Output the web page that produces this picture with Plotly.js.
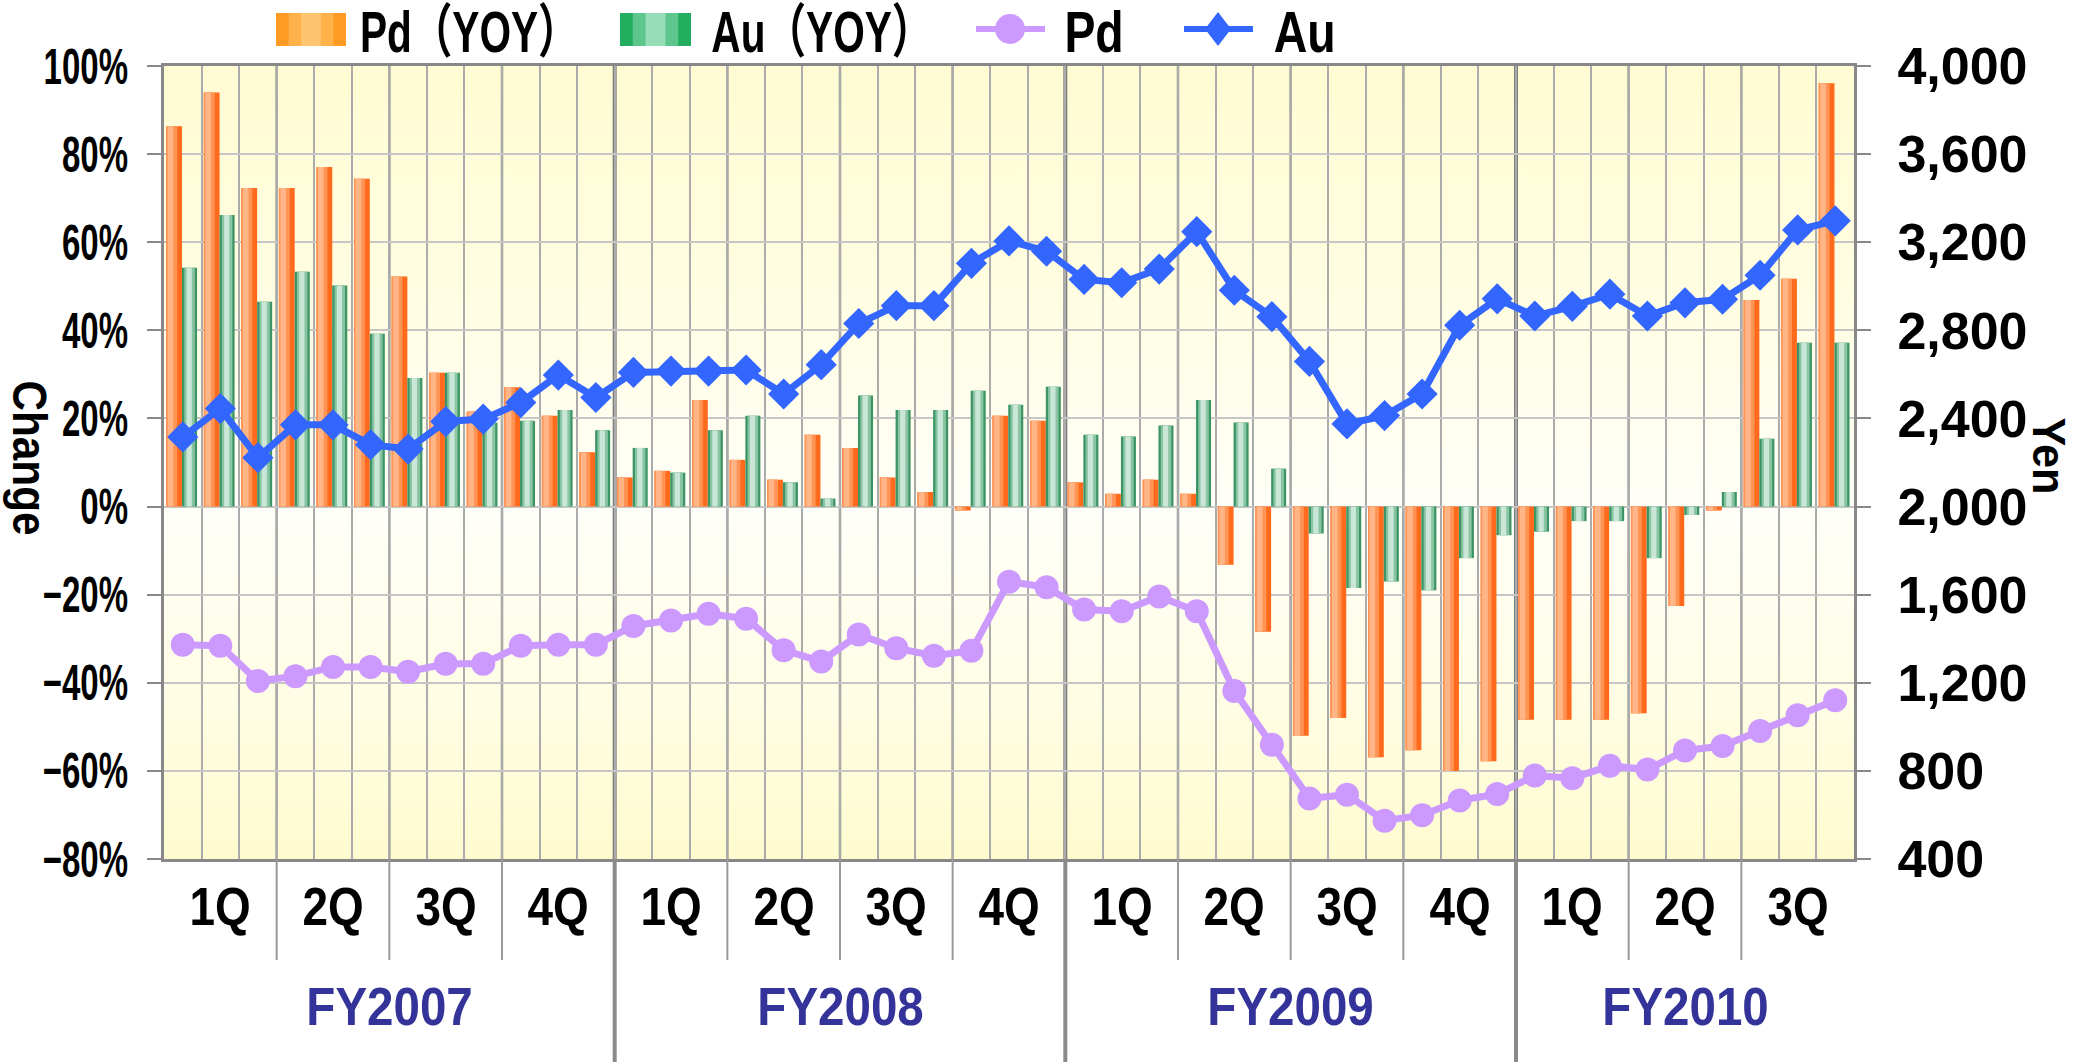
<!DOCTYPE html>
<html>
<head>
<meta charset="utf-8">
<script src="https://cdn.plot.ly/plotly-3.0.1.min.js"></script>
<style>html,body{margin:0;padding:0;background:#fff;}#chart{width:2090px;height:1062px;}</style>
</head>
<body>
<div id="chart"></div>
<script>
// ---- data ----
const months = ["2007-04","2007-05","2007-06","2007-07","2007-08","2007-09","2007-10","2007-11","2007-12","2008-01","2008-02","2008-03",
                "2008-04","2008-05","2008-06","2008-07","2008-08","2008-09","2008-10","2008-11","2008-12","2009-01","2009-02","2009-03",
                "2009-04","2009-05","2009-06","2009-07","2009-08","2009-09","2009-10","2009-11","2009-12","2010-01","2010-02","2010-03",
                "2010-04","2010-05","2010-06","2010-07","2010-08","2010-09","2010-10","2010-11","2010-12"];
const pdYoy = [86.3, 94.0, 72.3, 72.3, 77.1, 74.4, 52.2, 30.4, 21.6, 27.1, 20.6, 12.3,
               6.6, 8.1, 24.2, 10.6, 6.1, 16.3, 13.3, 6.6, 3.3, -0.9, 20.6, 19.5,
               5.5, 2.9, 6.1, 2.9, -13.2, -28.4, -52.0, -48.0, -56.9, -55.3, -60.0, -57.8,
               -48.4, -48.4, -48.4, -46.9, -22.6, -0.9, 46.9, 51.7, 96.1];
const auYoy = [54.2, 66.2, 46.5, 53.3, 50.2, 39.2, 29.2, 30.4, 19.0, 19.5, 21.9, 17.3,
               13.3, 7.7, 17.3, 20.6, 5.5, 1.8, 25.2, 21.9, 21.9, 26.3, 23.1, 27.2,
               16.3, 15.9, 18.4, 24.2, 19.1, 8.6, -6.1, -18.5, -17.0, -19.0, -11.7, -6.5,
               -5.7, -3.3, -3.3, -11.7, -1.9, 3.3, 15.4, 37.2, 37.2];
const pdPrice = [1373, 1368, 1208, 1230, 1272, 1272, 1250, 1286, 1286, 1368, 1373, 1373,
                 1458, 1483, 1513, 1491, 1348, 1297, 1419, 1357, 1323, 1345, 1659, 1634,
                 1533, 1525, 1592, 1525, 1163, 919, 675, 692, 574, 599, 666, 695,
                 779, 767, 823, 806, 893, 913, 981, 1053, 1121];
const auPrice = [2316, 2445, 2222, 2371, 2371, 2281, 2261, 2386, 2397, 2472, 2597, 2495,
                 2609, 2615, 2615, 2620, 2511, 2644, 2831, 2912, 2912, 3104, 3206, 3159,
                 3031, 3016, 3078, 3248, 2982, 2862, 2659, 2375, 2413, 2511, 2823, 2943,
                 2865, 2909, 2964, 2865, 2925, 2941, 3050, 3256, 3297];
const quarterLabels = ["1Q","2Q","3Q","4Q","1Q","2Q","3Q","4Q","1Q","2Q","3Q","4Q","1Q","2Q","3Q"];
const fiscalYears = ["FY2007","FY2008","FY2009","FY2010"];
const seriesNames = ["Pd（YOY）","Au（YOY）","Pd","Au"];

// ---- styling ----
const FONT = "'Liberation Sans', Arial, 'Noto Sans CJK JP', sans-serif";

function barLayer(y, name, color, offset, width) {
  return {type: 'bar', x: months, y: y, name: name, yaxis: 'y', xaxis: 'x',
          marker: {color: color, line: {width: 0}}, offset: offset, width: width,
          showlegend: false, hoverinfo: 'skip'};
}
const traces = [
  barLayer(pdYoy, seriesNames[0], '#FF6A1C', -0.44, 0.42),
  barLayer(pdYoy, seriesNames[0], '#FF9455', -0.44, 0.29),
  barLayer(pdYoy, seriesNames[0], '#FFB586', -0.40, 0.15),
  barLayer(auYoy, seriesNames[1], '#3C9464', -0.02, 0.40),
  barLayer(auYoy, seriesNames[1], '#89C4A3', 0.04, 0.28),
  barLayer(auYoy, seriesNames[1], '#C9E6D6', 0.10, 0.14),
  {type: 'scatter', mode: 'lines+markers', x: months, y: pdPrice, name: seriesNames[2], yaxis: 'y2',
   line: {color: '#CC99FF', width: 7}, marker: {symbol: 'circle', size: 24, color: '#CC99FF'}, showlegend: false},
  {type: 'scatter', mode: 'lines+markers', x: months, y: auPrice, name: seriesNames[3], yaxis: 'y2',
   line: {color: '#3366FF', width: 7}, marker: {symbol: 'diamond', size: 24, color: '#3366FF'}, showlegend: false}
];

// ---- geometry helpers (paper coordinates) ----
const L = 164, R = 236, T = 66, B = 203, W = 2090, H = 1062;
const PW = W - L - R, PH = H - T - B;
const px = v => (v - L) / PW;          // pixel x -> paper x
const py = v => (H - B - v) / PH;      // pixel y -> paper y

const shapes = [];
const annotations = [];
const squeeze = [];   // horizontal text compression per annotation (narrow bold look)
function addAnn(a, f) { annotations.push(a); squeeze.push(f); }

// quarter and fiscal-year separators
const n = months.length;
for (let b = 3; b < n; b += 3) {
  const isFY = (b % 12 === 0);
  shapes.push({type: 'line', xref: 'x', yref: 'paper', x0: b - 0.5, x1: b - 0.5, y0: 0, y1: 1,
               line: {color: isFY ? '#7F7F7F' : '#8E8E8E', width: isFY ? 4 : 2.5}, layer: 'between'});
  shapes.push({type: 'line', xref: 'x', yref: 'paper', x0: b - 0.5, x1: b - 0.5, y0: 0, y1: isFY ? py(H) : py(960),
               line: {color: isFY ? '#8A8A8A' : '#9A9A9A', width: isFY ? 4 : 2}, layer: 'above'});
}
// quarter labels
quarterLabels.forEach((q, i) => {
  const start = i * 3, end = Math.min(start + 3, n);
  addAnn({xref: 'x', yref: 'paper', x: (start + end - 1) / 2, y: py(906), text: q, showarrow: false,
          xanchor: 'center', yanchor: 'middle', font: {family: FONT, size: 54, color: '#000', weight: 'bold'}}, 0.85);
});
// fiscal year labels
fiscalYears.forEach((fy, i) => {
  const start = i * 12, end = Math.min(start + 12, n);
  addAnn({xref: 'x', yref: 'paper', x: (start + end - 1) / 2, y: py(1006), text: fy, showarrow: false,
          xanchor: 'center', yanchor: 'middle', font: {family: FONT, size: 54, color: '#333399', weight: 'bold'}}, 0.88);
});
// axis titles (read top-to-bottom)
addAnn({xref: 'paper', yref: 'paper', x: px(29), y: py(458), text: 'Change', textangle: 90, showarrow: false,
        xanchor: 'center', yanchor: 'middle', font: {family: FONT, size: 48, color: '#000', weight: 'bold'}}, 0.88);
addAnn({xref: 'paper', yref: 'paper', x: px(2049), y: py(456), text: 'Yen', textangle: 90, showarrow: false,
        xanchor: 'center', yanchor: 'middle', font: {family: FONT, size: 46, color: '#000', weight: 'bold'}}, 0.94);

// custom legend
function gradBox(x0, x1, y0, y1, colors) {
  const w = x1 - x0;
  shapes.push({type: 'rect', xref: 'paper', yref: 'paper', x0: px(x0), x1: px(x1), y0: py(y1), y1: py(y0), fillcolor: colors[0], line: {width: 0}});
  shapes.push({type: 'rect', xref: 'paper', yref: 'paper', x0: px(x0 + w * 0.18), x1: px(x1 - w * 0.18), y0: py(y1), y1: py(y0), fillcolor: colors[1], line: {width: 0}});
  shapes.push({type: 'rect', xref: 'paper', yref: 'paper', x0: px(x0 + w * 0.36), x1: px(x1 - w * 0.36), y0: py(y1), y1: py(y0), fillcolor: colors[2], line: {width: 0}});
}
const legY = 29;
gradBox(276, 346, 13, 46, ['#FF9A22', '#FFB14A', '#FFC56E']);
gradBox(620, 691, 13, 46, ['#22AE5E', '#5CC68C', '#97DDB8']);
shapes.push({type: 'line', xref: 'paper', yref: 'paper', x0: px(976), x1: px(1045), y0: py(legY), y1: py(legY), line: {color: '#CC99FF', width: 6}});
shapes.push({type: 'circle', xref: 'paper', yref: 'paper', xsizemode: 'pixel', ysizemode: 'pixel', xanchor: px(1010), yanchor: py(legY),
             x0: -15, x1: 15, y0: -15, y1: 15, fillcolor: '#CC99FF', line: {width: 0}});
shapes.push({type: 'line', xref: 'paper', yref: 'paper', x0: px(1184), x1: px(1253), y0: py(legY), y1: py(legY), line: {color: '#3366FF', width: 6}});
shapes.push({type: 'path', xref: 'paper', yref: 'paper', xsizemode: 'pixel', ysizemode: 'pixel', xanchor: px(1218), yanchor: py(legY),
             path: 'M 0 17 L 13 0 L 0 -17 L -13 0 Z', fillcolor: '#3366FF', line: {width: 0}});
// legend texts: [center x, text, compression]
[[469, seriesNames[0], 0.70], [822, seriesNames[1], 0.70], [1094, seriesNames[2], 0.8], [1304, seriesNames[3], 0.8]].forEach(([x, t, f]) => {
  addAnn({xref: 'paper', yref: 'paper', x: px(x), y: py(legY + 3), text: t, showarrow: false,
          xanchor: 'center', yanchor: 'middle', font: {family: FONT, size: 58, color: '#000', weight: 'bold'}}, f);
});

// gradient plot background
const bgSvg = "<svg xmlns='http://www.w3.org/2000/svg' width='100' height='100' preserveAspectRatio='none'>" +
  "<defs><linearGradient id='g' x1='0' y1='0' x2='0' y2='1'>" +
  "<stop offset='0' stop-color='#FFFCD3'/><stop offset='0.3' stop-color='#FFFDE2'/><stop offset='0.56' stop-color='#FFFFF9'/>" +
  "<stop offset='0.8' stop-color='#FFFDE4'/><stop offset='1' stop-color='#FFFBCF'/></linearGradient></defs>" +
  "<rect width='100' height='100' fill='url(#g)'/></svg>";

const layout = {
  width: W, height: H,
  margin: {l: L, r: R, t: T, b: B, pad: 0},
  paper_bgcolor: '#FFFFFF',
  plot_bgcolor: 'rgba(0,0,0,0)',
  barmode: 'overlay',
  showlegend: false,
  images: [{source: 'data:image/svg+xml;charset=utf-8,' + encodeURIComponent(bgSvg),
            xref: 'paper', yref: 'paper', x: 0, y: 1, sizex: 1, sizey: 1, sizing: 'stretch',
            xanchor: 'left', yanchor: 'top', layer: 'below'}],
  xaxis: {type: 'category', range: [-0.5, n - 0.5], tickson: 'boundaries', showticklabels: false, ticks: '',
          showgrid: true, gridcolor: '#ABABAB', gridwidth: 2,
          showline: true, linecolor: '#888888', linewidth: 3, mirror: true, zeroline: false, fixedrange: true},
  yaxis: {range: [-80, 100], dtick: 20, tick0: 0, ticksuffix: '%', showgrid: true, gridcolor: '#C6C6C6', gridwidth: 2,
          zeroline: false, showline: true, linecolor: '#888888', linewidth: 3,
          ticks: 'outside', ticklen: 14, tickwidth: 2, tickcolor: '#888888', ticklabelstandoff: 9,
          tickfont: {family: FONT, size: 50, color: '#000', weight: 'bold'}, automargin: false},
  yaxis2: {range: [400, 4000], dtick: 400, tick0: 400, tickformat: ',d', overlaying: 'y', side: 'right',
           showgrid: false, zeroline: false, showline: true, linecolor: '#888888', linewidth: 3,
           ticks: 'outside', ticklen: 14, tickwidth: 2, tickcolor: '#888888', ticklabelstandoff: 16,
           tickfont: {family: FONT, size: 52, color: '#000', weight: 'bold'}, automargin: false},
  shapes: shapes,
  annotations: annotations
};

function compress(el, f) {
  if (!el || f === 1) return;
  const w = el.getComputedTextLength();
  if (w > 0) {
    el.setAttribute('textLength', (w * f).toFixed(1));
    el.setAttribute('lengthAdjust', 'spacingAndGlyphs');
  }
}

Plotly.newPlot('chart', traces, layout, {staticPlot: true, displayModeBar: false}).then(gd => {
  // narrow-bold look of the original: compress tick labels and annotation texts horizontally
  gd.querySelectorAll('g.ytick text').forEach(t => {
    const left = t.getBoundingClientRect().left < W / 2;
    compress(t, left ? 0.66 : 0.92);
  });
  gd.querySelectorAll('g.annotation').forEach(g => {
    const i = +g.getAttribute('data-index');
    compress(g.querySelector('text.annotation-text'), squeeze[i] == null ? 1 : squeeze[i]);
  });
});
</script>
</body>
</html>
